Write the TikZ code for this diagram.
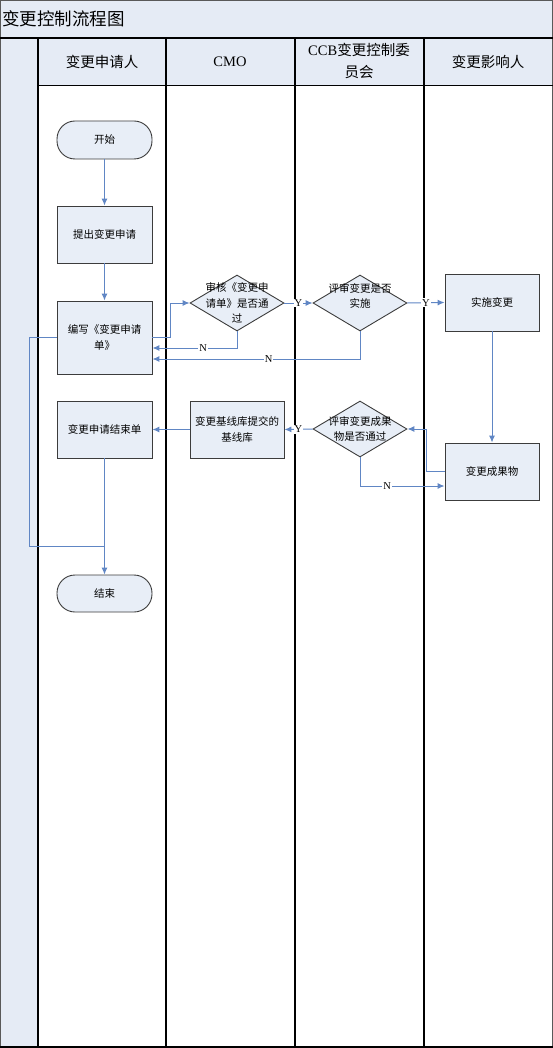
\documentclass[tikz,border=0pt]{standalone}
\usepackage{fontspec}
\setmainfont{Liberation Serif}
\newfontfamily\cjk{Noto Sans CJK SC}
\usetikzlibrary{shapes.geometric,arrows.meta,calc}
\definecolor{boxfill}{RGB}{232,238,247}
\definecolor{headfill}{RGB}{229,235,245}
\definecolor{flow}{RGB}{96,134,196}
\definecolor{edge}{RGB}{60,60,60}
\tikzset{
  box/.style={draw=edge,line width=0.9pt,fill=boxfill,minimum width=95pt,minimum height=57pt,inner sep=0pt,align=center,font=\cjk\fontsize{10.5}{16}\selectfont},
  term/.style={box,rounded corners=18pt,minimum height=38pt},
  dia/.style={draw=edge,line width=0.9pt,fill=boxfill,diamond,minimum width=94pt,minimum height=56pt,inner sep=0pt},
  diatext/.style={align=center,inner sep=0pt,font=\cjk\fontsize{10.5}{15.5}\selectfont},
  arr/.style={draw=flow,line width=1pt,-{Latex[length=7pt,width=6pt]}},
  ln/.style={draw=flow,line width=1pt},
  lab/.style={fill=white,inner sep=1pt,font=\rmfamily\fontsize{10.5}{10.5}\selectfont},
  head/.style={align=center,font=\fontsize{14.5}{22}\selectfont}
}
\begin{document}
\begin{tikzpicture}[x=1pt,y=-1pt]
\useasboundingbox (0,0) rectangle (553,1048);
% backgrounds
\fill[headfill] (0,0) rectangle (553,38);
\fill[headfill] (0,38) rectangle (38,1048);
\fill[headfill] (38,38) rectangle (553,86);
% title
\node[anchor=west,inner sep=0pt,font=\cjk\fontsize{17.5}{17.5}\selectfont] (title) at (2,19) {变更控制流程图};
% grid lines
\draw[gray!70!black,line width=1pt] (0.5,0.5) rectangle (552.5,1047.5);
\draw[black,line width=2pt] (0,38) -- (553,38);
\draw[black,line width=1pt] (38,86) -- (553,86);
\draw[black,line width=1.6pt] (38,38) -- (38,1048);
\draw[black,line width=1.6pt] (166,38) -- (166,1048);
\draw[black,line width=1.6pt] (295,38) -- (295,1048);
\draw[black,line width=1.6pt] (424,38) -- (424,1048);
\draw[black,line width=1.6pt] (0,1047) -- (553,1047);
% headers
\node[head] (h1) at (102,62) {\cjk 变更申请人};
\node[head] (h2) at (230,62) {CMO};
\node[head] (h3) at (359,61) {CCB{\cjk 变更控制委}\\{\cjk 员会}};
\node[head] (h4) at (488,62) {\cjk 变更影响人};
% nodes
\node[term] (s) at (104.5,140) {开始};
\node[box] (p) at (104.5,234.5) {提出变更申请};
\node[box,minimum height=73pt] (w) at (104.5,337.5) {编写《变更申请\\单》};
\node[dia] (d1) at (237,303) {};
\node[diatext] (d1t) at (237,303) {审核《变更申\\请单》是否通\\过};
\node[dia] (d2) at (360,303) {};
\node[diatext] (d2t) at (360,296) {评审变更是否\\实施};
\node[box,minimum width=94pt] (e) at (492,302.5) {实施变更};
\node[box,minimum width=94pt] (r) at (492,471.5) {变更成果物};
\node[dia] (d3) at (360,429) {};
\node[diatext] (d3t) at (360,429) {评审变更成果\\物是否通过};
\node[box,minimum width=94pt] (b) at (237,429.5) {变更基线库提交的\\基线库};
\node[box] (c) at (104.5,429.5) {变更申请结束单};
\node[term,minimum height=37pt] (t) at (104.5,593.5) {结束};
% connectors
\coordinate (lp) at (29,546);
\draw[ln] (w.west) -| (lp) -- (lp -| c);
\draw[arr] (s) -- (p);
\draw[arr] (p) -- (w);
\draw[arr] (w.east) -- ++(18,0) |- (d1.west);
\draw[arr] (d1.south) |- node[lab,pos=0.7]{N} ($(w.east)+(0,10.5)$);
\draw[arr] (d2.south) |- node[lab,pos=0.72]{N} ($(w.east)+(0,21.5)$);
\draw[arr] (d1.east) -- node[lab]{Y} (d2.west);
\draw[arr] (d2.east) -- node[lab]{Y} (e.west);
\draw[arr] (e) -- (r);
\draw[arr] (r.west) -- ++(-18,0) |- (d3.east);
\draw[arr] (d3.south) |- node[lab,pos=0.66]{N} ($(r.west)+(0,14.5)$);
\draw[arr] (d3.west) -- node[lab]{Y} (b.east);
\draw[arr] (b) -- (c);
\draw[arr] (c) -- (t);
\end{tikzpicture}
\end{document}
